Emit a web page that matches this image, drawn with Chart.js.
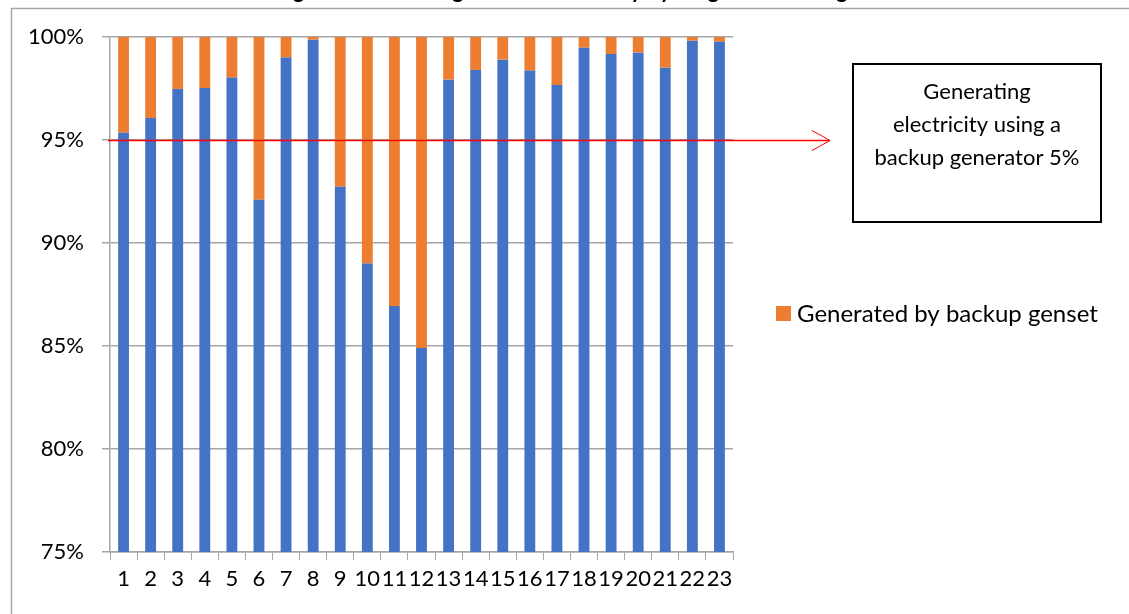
<!DOCTYPE html>
<html>
<head>
<title>Electricity by stage</title>
<script src="https://cdn.jsdelivr.net/npm/chart.js@4.4.1/dist/chart.umd.min.js"></script>
<style>
    html, body { margin: 0; padding: 0; background: #ffffff; overflow: hidden; }
    #wrap { width: 1129px; height: 614px; position: relative; }
</style>
</head>
<body>
<div id="wrap"><canvas id="stageChart"></canvas></div>

<script>
    // data
    const stages = ["1","2","3","4","5","6","7","8","9","10","11","12","13","14","15","16","17","18","19","20","21","22","23"];
    const gridShare = [95.35, 96.07, 97.48, 97.52, 98.03, 92.1, 99.0, 99.87, 92.73, 89.0, 86.94, 84.9,
                       97.93, 98.4, 98.9, 98.37, 97.67, 99.48, 99.17, 99.24, 98.51, 99.82, 99.77];
    const gensetShare = gridShare.map(v => +(100 - v).toFixed(2));
    const yTicks = [75, 80, 85, 90, 95, 100];
    const refLevel = 95;
    const gensetLabel = "Generated by backup genset";
    const noteLines = ["Generating", "electricity using a", "backup generator 5%"];
    const titleText = "Figure 3: Percentage of the Electricity by Stage of the Usage";

    const axisFont = { family: "Lato", size: 22 };

    // border, title, red reference arrow, note box and legend item
    const extras = {
        id: "extras",
        beforeDraw(chart) {
            const ctx = chart.ctx;
            ctx.save();
            ctx.fillStyle = "#ffffff";
            ctx.fillRect(0, 0, chart.width, chart.height);
            ctx.strokeStyle = "#a6a6a6";
            ctx.lineWidth = 1.5;
            ctx.beginPath();
            ctx.moveTo(11.5, chart.height + 2);
            ctx.lineTo(11.5, 8.5);
            ctx.lineTo(chart.width + 2, 8.5);
            ctx.stroke();
            // title sits mostly above the visible page, only its foot shows
            ctx.fillStyle = "#000000";
            ctx.font = "bold 22px Lato";
            ctx.textAlign = "center";
            ctx.textBaseline = "alphabetic";
            ctx.fillText(titleText, 567, -2);
            ctx.restore();
        },
        afterDraw(chart) {
            const ctx = chart.ctx;
            const y = Math.round(chart.scales.y.getPixelForValue(refLevel)) + 0.5;
            ctx.save();
            ctx.strokeStyle = "#ff0000";
            ctx.lineWidth = 1.5;
            ctx.beginPath();
            ctx.moveTo(108, y);
            ctx.lineTo(830, y);
            ctx.stroke();
            ctx.lineWidth = 1;
            ctx.beginPath();
            ctx.moveTo(812, y - 10);
            ctx.lineTo(830, y);
            ctx.lineTo(812, y + 10);
            ctx.stroke();

            // note box
            ctx.strokeStyle = "#000000";
            ctx.lineWidth = 2;
            ctx.strokeRect(853, 64, 248, 158);
            ctx.fillStyle = "#000000";
            ctx.font = "22px Lato";
            ctx.textAlign = "center";
            ctx.textBaseline = "middle";
            noteLines.forEach((t, i) => ctx.fillText(t, 977, 92 + i * 33));

            // legend item (only the genset series is listed)
            ctx.fillStyle = chart.data.datasets[1].backgroundColor;
            ctx.fillRect(776, 306, 15, 15);
            ctx.fillStyle = "#000000";
            ctx.font = "24px Lato";
            ctx.textAlign = "left";
            ctx.fillText(chart.data.datasets[1].label, 797, 314);
            ctx.restore();
        }
    };

    new Chart("stageChart", {
        type: "bar",
        data: {
            labels: stages,
            datasets: [
                { label: "Grid", data: gridShare, backgroundColor: "#4472c4",
                  categoryPercentage: 1, barPercentage: 0.4 },
                { label: gensetLabel, data: gensetShare, backgroundColor: "#ed7d31",
                  categoryPercentage: 1, barPercentage: 0.4 }
            ]
        },
        options: {
            responsive: true,
            maintainAspectRatio: false,
            animation: false,
            layout: { padding: { top: 37, right: 396, bottom: 0, left: 0 } },
            plugins: {
                legend: { display: false },
                tooltip: { enabled: false }
            },
            scales: {
                x: {
                    stacked: true,
                    afterFit: s => { s.height = 62; },
                    grid: { offset: true, drawOnChartArea: false, drawTicks: true, tickLength: 8, color: "#a6a6a6" },
                    border: { color: "#a6a6a6", width: 1.5 },
                    ticks: { font: axisFont, color: "#000000", autoSkip: false, maxRotation: 0, padding: 6 }
                },
                y: {
                    stacked: true,
                    min: yTicks[0],
                    max: yTicks[yTicks.length - 1],
                    afterFit: s => { s.width = 110; },
                    afterBuildTicks: s => { s.ticks = yTicks.map(v => ({ value: v })); },
                    grid: { color: "#a6a6a6", lineWidth: 1.5, tickLength: 8 },
                    border: { color: "#a6a6a6", width: 1.5 },
                    ticks: { font: axisFont, color: "#000000", padding: 18, callback: v => v + "%" }
                }
            }
        },
        plugins: [extras]
    });
</script>
</body>
</html>
